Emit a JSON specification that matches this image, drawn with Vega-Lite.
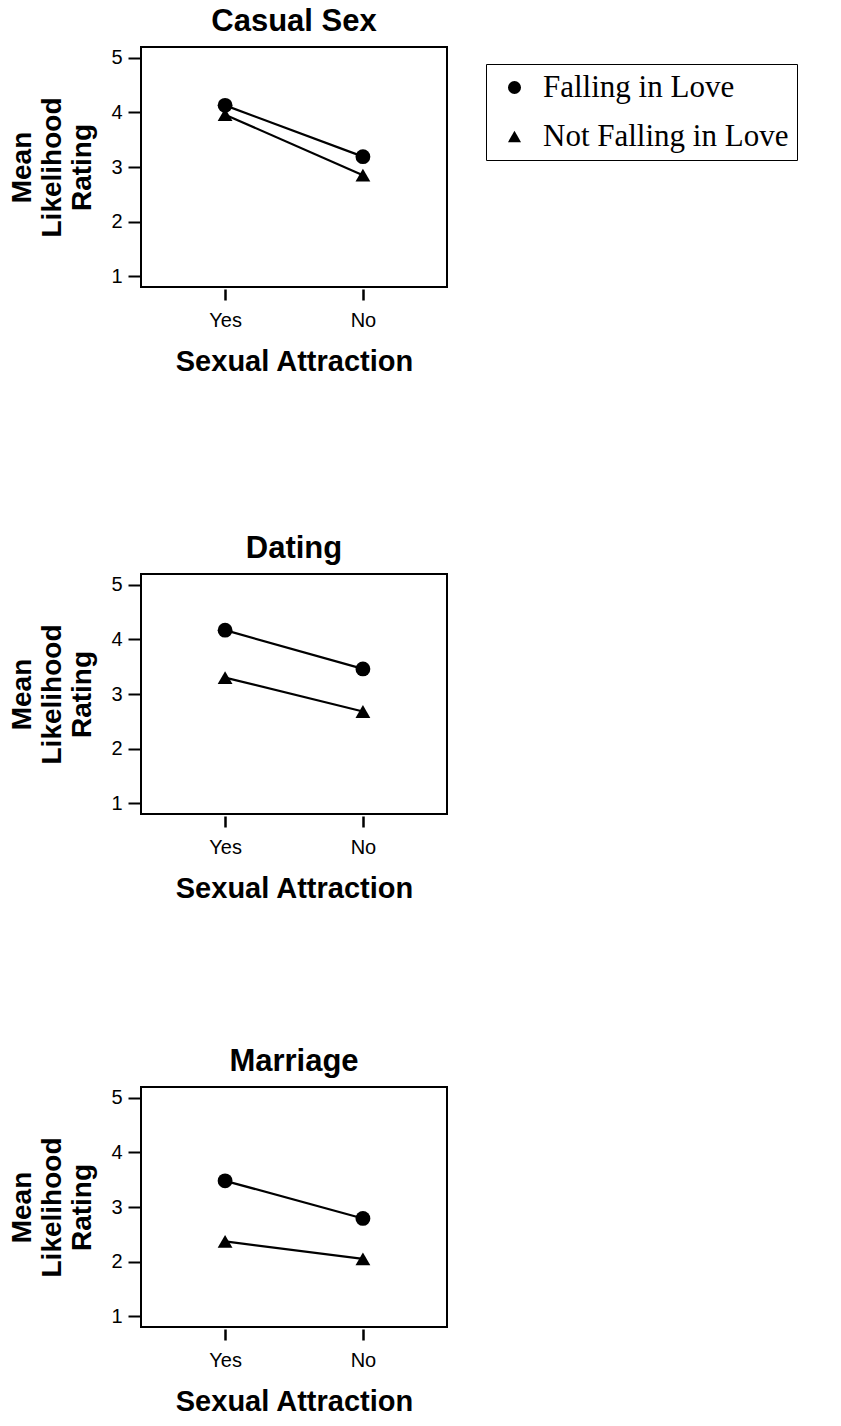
{
  "$schema": "https://vega.github.io/schema/vega-lite/v6.json",
  "padding": {"left": 7, "top": 5, "right": 0, "bottom": 0},
  "background": "white",
  "config": {
    "font": "Liberation Sans",
    "view": {"stroke": "black", "strokeWidth": 2},
    "title": {"fontSize": 31, "fontWeight": "bold", "font": "Liberation Sans", "color": "black", "offset": 9},
    "axis": {"labelFont": "Liberation Sans", "titleFont": "Liberation Sans", "labelColor": "black", "titleColor": "black", "tickColor": "black", "grid": false, "domain": false}
  },
  "data": {"values": [
    {"panel": "Casual Sex", "attraction": "Yes", "love": "Falling in Love", "rating": 4.13},
    {"panel": "Casual Sex", "attraction": "No", "love": "Falling in Love", "rating": 3.19},
    {"panel": "Casual Sex", "attraction": "Yes", "love": "Not Falling in Love", "rating": 3.96},
    {"panel": "Casual Sex", "attraction": "No", "love": "Not Falling in Love", "rating": 2.85},
    {"panel": "Dating", "attraction": "Yes", "love": "Falling in Love", "rating": 4.17},
    {"panel": "Dating", "attraction": "No", "love": "Falling in Love", "rating": 3.46},
    {"panel": "Dating", "attraction": "Yes", "love": "Not Falling in Love", "rating": 3.3},
    {"panel": "Dating", "attraction": "No", "love": "Not Falling in Love", "rating": 2.68},
    {"panel": "Marriage", "attraction": "Yes", "love": "Falling in Love", "rating": 3.48},
    {"panel": "Marriage", "attraction": "No", "love": "Falling in Love", "rating": 2.79},
    {"panel": "Marriage", "attraction": "Yes", "love": "Not Falling in Love", "rating": 2.37},
    {"panel": "Marriage", "attraction": "No", "love": "Not Falling in Love", "rating": 2.05}
  ]},
  "spacing": 141,
  "resolve": {"legend": {"shape": "independent"}},
  "vconcat": [
    {
      "spacing": 155,
      "resolve": {"legend": {"shape": "independent"}},
      "vconcat": [
        {
          "title": "Casual Sex",
          "width": 306, "height": 240,
          "transform": [{"filter": "datum.panel === 'Casual Sex'"}],
          "encoding": {
            "x": {"field": "attraction", "type": "nominal", "sort": ["Yes", "No"],
                  "scale": {"type": "point", "padding": 0.61},
                  "axis": {"title": "Sexual Attraction", "labelAngle": 0, "labelFontSize": 20, "titleFontSize": 29, "titleFontWeight": "bold", "tickSize": 11, "tickWidth": 2.5, "offset": 2, "labelPadding": 10, "titlePadding": 17}},
            "y": {"field": "rating", "type": "quantitative",
                  "scale": {"domain": [0.8, 5.2], "nice": false, "zero": false},
                  "axis": {"title": ["Mean", "Likelihood", "Rating"], "values": [1, 2, 3, 4, 5], "labelFontSize": 20, "titleFontSize": 28, "titleFontWeight": "bold", "titleLineHeight": 30, "tickSize": 13, "tickWidth": 2, "labelPadding": 6, "titlePadding": 14}}
          },
          "layer": [
            {"mark": {"type": "line", "color": "black", "strokeWidth": 2.2}, "encoding": {"detail": {"field": "love", "type": "nominal"}}},
            {"mark": {"type": "point", "filled": true, "color": "black", "opacity": 1, "size": 220},
             "encoding": {"shape": {"field": "love", "type": "nominal",
               "scale": {"domain": ["Falling in Love", "Not Falling in Love"], "range": ["circle", "triangle-up"]},
               "legend": {"title": null, "orient": "none", "legendX": 345, "legendY": 17, "labelFont": "Liberation Serif", "labelFontSize": 31, "labelColor": "black", "labelLimit": 0, "labelExpr": "datum.label + '\u2003\u2003\u2003\u2003'", "symbolSize": 170, "symbolFillColor": "black", "symbolStrokeColor": "black", "symbolOpacity": 1, "strokeColor": "black", "padding": 8, "rowPadding": 17, "symbolOffset": 5, "labelOffset": 13, "fillColor": "white",
                 "encode": {"legend": {"update": {"strokeWidth": {"value": 2.5}}}}}}}}
          ]
        },
        {
          "title": "Dating",
          "width": 306, "height": 240,
          "transform": [{"filter": "datum.panel === 'Dating'"}],
          "encoding": {
            "x": {"field": "attraction", "type": "nominal", "sort": ["Yes", "No"],
                  "scale": {"type": "point", "padding": 0.61},
                  "axis": {"title": "Sexual Attraction", "labelAngle": 0, "labelFontSize": 20, "titleFontSize": 29, "titleFontWeight": "bold", "tickSize": 11, "tickWidth": 2.5, "offset": 2, "labelPadding": 10, "titlePadding": 17}},
            "y": {"field": "rating", "type": "quantitative",
                  "scale": {"domain": [0.8, 5.2], "nice": false, "zero": false},
                  "axis": {"title": ["Mean", "Likelihood", "Rating"], "values": [1, 2, 3, 4, 5], "labelFontSize": 20, "titleFontSize": 28, "titleFontWeight": "bold", "titleLineHeight": 30, "tickSize": 13, "tickWidth": 2, "labelPadding": 6, "titlePadding": 14}}
          },
          "layer": [
            {"mark": {"type": "line", "color": "black", "strokeWidth": 2.2}, "encoding": {"detail": {"field": "love", "type": "nominal"}}},
            {"mark": {"type": "point", "filled": true, "color": "black", "opacity": 1, "size": 220},
             "encoding": {"shape": {"field": "love", "type": "nominal",
               "scale": {"domain": ["Falling in Love", "Not Falling in Love"], "range": ["circle", "triangle-up"]},
               "legend": null}}}
          ]
        }
      ]
    },
    {
      "title": "Marriage",
      "width": 306, "height": 240,
      "transform": [{"filter": "datum.panel === 'Marriage'"}],
      "encoding": {
        "x": {"field": "attraction", "type": "nominal", "sort": ["Yes", "No"],
              "scale": {"type": "point", "padding": 0.61},
              "axis": {"title": "Sexual Attraction", "labelAngle": 0, "labelFontSize": 20, "titleFontSize": 29, "titleFontWeight": "bold", "tickSize": 11, "tickWidth": 2.5, "offset": 2, "labelPadding": 10, "titlePadding": 17}},
        "y": {"field": "rating", "type": "quantitative",
              "scale": {"domain": [0.8, 5.2], "nice": false, "zero": false},
              "axis": {"title": ["Mean", "Likelihood", "Rating"], "values": [1, 2, 3, 4, 5], "labelFontSize": 20, "titleFontSize": 28, "titleFontWeight": "bold", "titleLineHeight": 30, "tickSize": 13, "tickWidth": 2, "labelPadding": 6, "titlePadding": 14}}
      },
      "layer": [
        {"mark": {"type": "line", "color": "black", "strokeWidth": 2.2}, "encoding": {"detail": {"field": "love", "type": "nominal"}}},
        {"mark": {"type": "point", "filled": true, "color": "black", "opacity": 1, "size": 220},
         "encoding": {"shape": {"field": "love", "type": "nominal",
           "scale": {"domain": ["Falling in Love", "Not Falling in Love"], "range": ["circle", "triangle-up"]},
           "legend": null}}}
      ]
    }
  ]
}
